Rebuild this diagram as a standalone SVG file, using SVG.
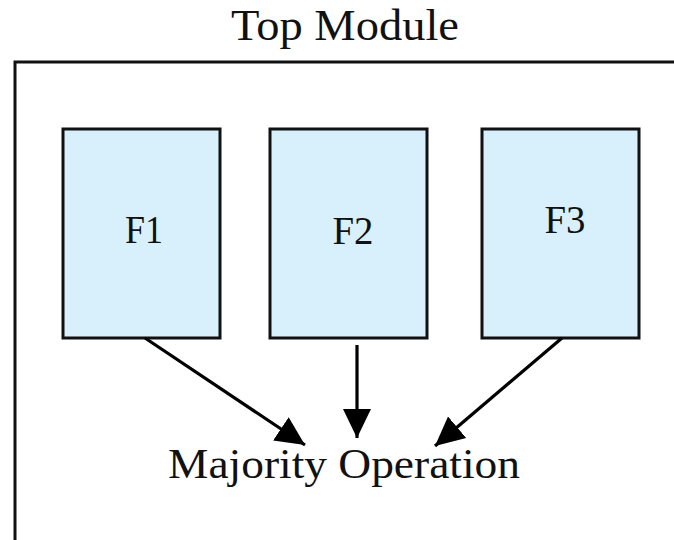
<svg xmlns="http://www.w3.org/2000/svg" width="674" height="540" viewBox="0 0 674 540">
<defs>
<style>
.lbl{font-family:"Liberation Serif","DejaVu Serif",serif;fill:#111;}
.blk{fill:#d8f0fc;stroke:#111;stroke-width:3;}
.con{stroke:#000;stroke-width:3.2;fill:none;marker-end:url(#ah);}
</style>
<marker id="ah" markerUnits="userSpaceOnUse" markerWidth="30" markerHeight="30" viewBox="0 0 30 30" refX="29" refY="15" orient="auto">
<path d="M0,1 L29,15 L0,29 Z" fill="#000"/>
</marker>
</defs>
<rect width="674" height="540" fill="#fff"/>
<g id="top">
<rect x="15" y="62" width="680" height="500" fill="none" stroke="#111" stroke-width="3"/>
<text class="lbl" x="345" y="40" font-size="45" text-anchor="middle" textLength="228" lengthAdjust="spacingAndGlyphs">Top Module</text>
</g>
<g id="f1">
<rect class="blk" x="63" y="129" width="157" height="209"/>
<text class="lbl" x="144" y="243" font-size="39" text-anchor="middle" textLength="38" lengthAdjust="spacingAndGlyphs">F1</text>
</g>
<g id="f2">
<rect class="blk" x="270" y="129" width="157" height="209"/>
<text class="lbl" x="353" y="244" font-size="39" text-anchor="middle" textLength="41" lengthAdjust="spacingAndGlyphs">F2</text>
</g>
<g id="f3">
<rect class="blk" x="482" y="129" width="157" height="209"/>
<text class="lbl" x="565" y="233" font-size="39" text-anchor="middle" textLength="41" lengthAdjust="spacingAndGlyphs">F3</text>
</g>
<g id="majority">
<text class="lbl" x="344" y="478" font-size="43" text-anchor="middle" textLength="352" lengthAdjust="spacingAndGlyphs">Majority Operation</text>
</g>
<g id="connectors">
<line class="con" x1="145" y1="338" x2="305" y2="445"/>
<line class="con" x1="357" y1="345" x2="357" y2="438"/>
<line class="con" x1="562" y1="338" x2="435" y2="446"/>
</g>
</svg>
